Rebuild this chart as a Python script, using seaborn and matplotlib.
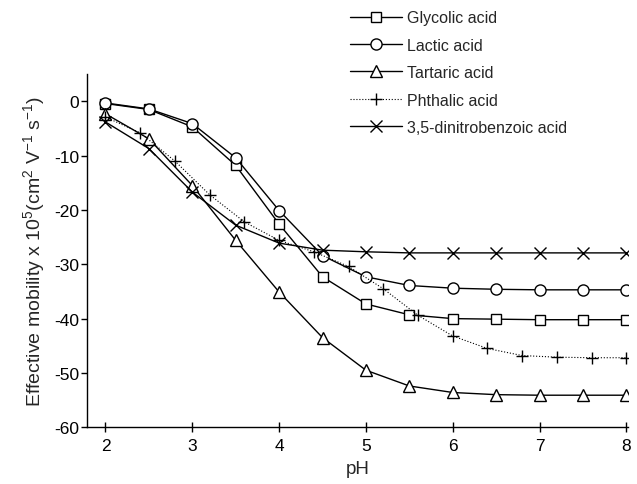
import matplotlib
matplotlib.use("Agg")
import pandas as pd
import matplotlib.pyplot as plt
import seaborn as sns

# values
PH = [2.0, 2.5, 3.0, 3.5, 4.0, 4.5, 5.0, 5.5, 6.0, 6.5, 7.0, 7.5, 8.0]
GLYCOLIC = [-0.4, -1.5, -4.7, -11.8, -22.6, -32.3, -37.3, -39.3, -40.0, -40.1, -40.2, -40.2, -40.2]
LACTIC = [-0.3, -1.4, -4.1, -10.4, -20.1, -28.4, -32.3, -33.9, -34.4, -34.6, -34.7, -34.7, -34.7]
TARTARIC = [-2.3, -6.9, -15.5, -25.6, -35.1, -43.5, -49.5, -52.4, -53.6, -54.0, -54.1, -54.1, -54.1]
DNBA = [-3.8, -8.7, -16.7, -22.8, -26.1, -27.4, -27.7, -27.9, -27.9, -27.9, -27.9, -27.9, -27.9]

PH_PHTHALIC = [2.0, 2.4, 2.8, 3.2, 3.6, 4.0, 4.4, 4.8, 5.2, 5.6, 6.0, 6.4, 6.8, 7.2, 7.6, 8.0]
PHTHALIC = [-2.9, -5.8, -11.0, -17.2, -22.2, -25.6, -27.7, -30.4, -34.5, -39.4, -43.2,
            -45.5, -46.8, -47.1, -47.2, -47.2]

sns.set_theme(style="ticks")
plt.rcParams["font.family"] = ["Liberation Sans", "DejaVu Sans"]
plt.rcParams["mathtext.default"] = "regular"
plt.rcParams["axes.unicode_minus"] = False

fig = plt.figure(figsize=(6.37, 4.85), dpi=100)
ax = fig.add_axes([0.137, 0.117, 0.849, 0.728])

series = [
    ("Glycolic acid", PH, GLYCOLIC, "s", "-", 7),
    ("Lactic acid", PH, LACTIC, "o", "-", 8),
    ("Tartaric acid", PH, TARTARIC, "^", "-", 8.5),
    ("Phthalic acid", PH_PHTHALIC, PHTHALIC, "+", ":", 9),
    ("3,5-dinitrobenzoic acid", PH, DNBA, "x", "-", 8),
]

for name, xs, ys, mk, ls, ms in series:
    df = pd.DataFrame({"pH": xs, "mobility": ys})
    lw = 0.8 if ls == ":" else 1.0
    sns.lineplot(data=df, x="pH", y="mobility", ax=ax, color="black", linewidth=lw,
                 linestyle=ls, marker=mk, markersize=ms, markerfacecolor="white",
                 markeredgecolor="black", markeredgewidth=1.0, label=name, legend=False,
                 zorder=3)

ax.set_xlim(1.79, 8.02)
ax.set_ylim(-60, 5)
ax.set_xticks([2, 3, 4, 5, 6, 7, 8])
ax.set_yticks([0, -10, -20, -30, -40, -50, -60])
sns.despine(ax=ax)
for side in ["left", "bottom"]:
    ax.spines[side].set_linewidth(1.0)
    ax.spines[side].set_color("black")
ax.tick_params(axis="x", direction="inout", length=7, width=1, labelsize=12.5, pad=4, colors="black")
ax.tick_params(axis="y", direction="out", length=4, width=1, labelsize=12.5, pad=2, colors="black")

ax.set_xlabel("pH", fontsize=13.5, labelpad=5)
ax.set_ylabel(r"Effective mobility x 10$^5$(cm$^2$ V$^{-1}$ s$^{-1}$)", fontsize=14, labelpad=5)

handles, labels = ax.get_legend_handles_labels()
fig.legend(handles, labels, loc="upper left", bbox_to_anchor=(0.549, 0.977),
           frameon=False, fontsize=11.5, handlelength=3.3, handletextpad=0.3,
           labelspacing=0.78, borderpad=0, borderaxespad=0)

fig.savefig("out.png", dpi=100)
